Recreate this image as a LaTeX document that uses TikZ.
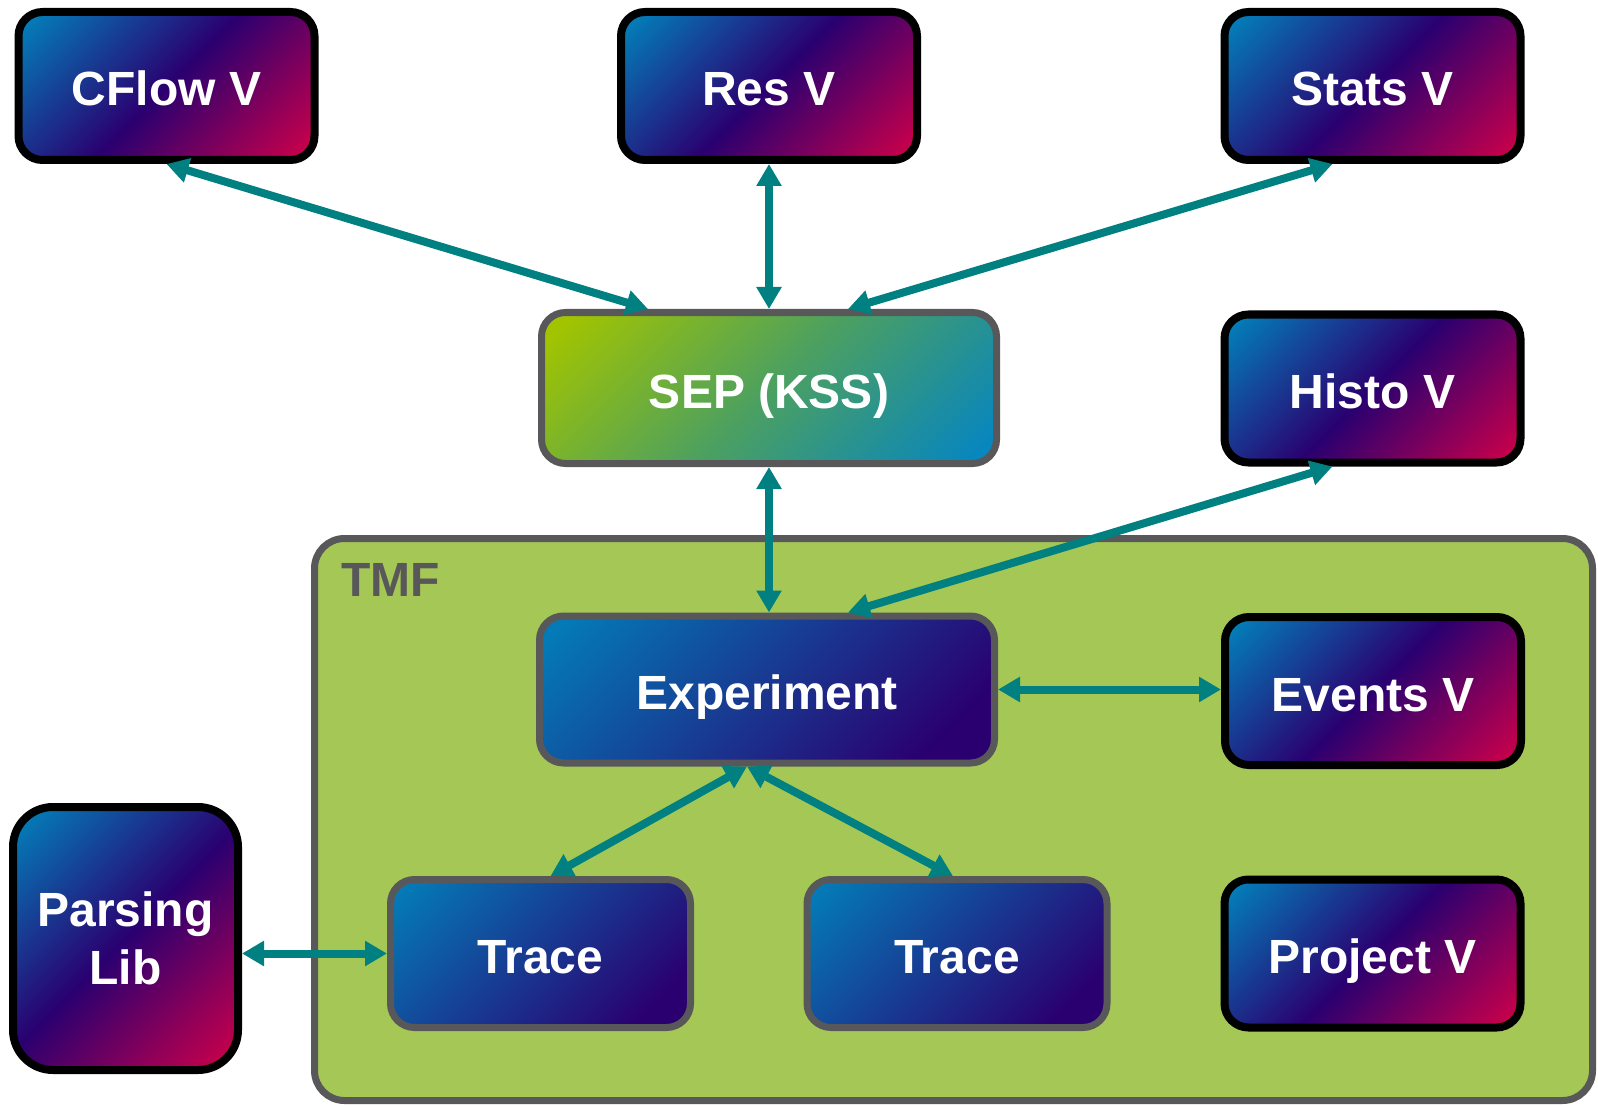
\documentclass[tikz,border=0pt]{standalone}
\usepackage{fontspec}
\setmainfont{Liberation Sans}
\usetikzlibrary{arrows.meta}
\definecolor{vblue}{RGB}{4,122,182}
\definecolor{vpurple}{RGB}{42,0,112}
\definecolor{vred}{RGB}{196,0,76}
\definecolor{sepgreen}{RGB}{162,196,0}
\definecolor{sepmid}{RGB}{76,160,96}
\definecolor{sepblue}{RGB}{8,134,190}
\definecolor{tmfgreen}{RGB}{165,199,86}
\definecolor{bordergrey}{RGB}{88,88,90}
\definecolor{arrowteal}{RGB}{0,128,128}
\pgfdeclarehorizontalshading{vgrad}{100bp}{color(0bp)=(vblue); color(18bp)=(vblue); color(50bp)=(vpurple); color(82bp)=(vred); color(100bp)=(vred)}
\pgfdeclarehorizontalshading{bgrad}{100bp}{color(0bp)=(vblue); color(18bp)=(vblue); color(76bp)=(vpurple); color(100bp)=(vpurple)}
\pgfdeclarehorizontalshading{sgrad}{100bp}{color(0bp)=(sepgreen); color(18bp)=(sepgreen); color(50bp)=(sepmid); color(82bp)=(sepblue); color(100bp)=(sepblue)}
\begin{document}
\begin{tikzpicture}[x=1pt,y=-1pt,
  lbl/.style={font=\bfseries\fontsize{48}{58}\selectfont, text=white, align=center},
  oneline/.style={text height=40pt, text depth=0pt},
  vbox/.style={lbl, draw=black, line width=8pt, rounded corners=24pt, shading=vgrad, shading angle=-45, minimum width=296pt, minimum height=148pt, inner sep=0pt},
  gbox/.style={lbl, oneline, draw=bordergrey, line width=7pt, rounded corners=24pt, shading=bgrad, shading angle=-45, inner sep=0pt},
  sbox/.style={lbl, oneline, draw=bordergrey, line width=7pt, rounded corners=24pt, shading=sgrad, shading angle=-45, inner sep=0pt},
  link/.style={draw=arrowteal, line width=8pt, {Triangle[length=22pt,width=24pt]}-{Triangle[length=22pt,width=24pt]}}
]
\useasboundingbox (0,0) rectangle (1598,1107);
% TMF container
\node[draw=bordergrey, line width=7pt, fill=tmfgreen, rounded corners=30pt, minimum width=1278pt, minimum height=562pt, inner sep=0pt] (tmf) at (953.5,819.5) {};
\node[anchor=base west, font=\bfseries\fontsize{48}{58}\selectfont, text=bordergrey, inner sep=0pt] (tmflabel) at (341,596) {TMF};
% top row
\node[vbox, oneline] (cflow) at (166.5,86) {CFlow V};
\node[vbox, oneline] (res) at (769,86) {Res V};
\node[vbox, oneline] (stats) at (1372.5,86) {Stats V};
% middle
\node[sbox, minimum width=455pt, minimum height=151pt] (sep) at (769,388) {SEP (KSS)};
\node[vbox, oneline] (histo) at (1372.5,388.5) {Histo V};
% inside TMF
\node[gbox, minimum width=455pt, minimum height=147pt] (exp) at (767,689.5) {Experiment};
\node[vbox, oneline] (events) at (1373,691) {Events V};
\node[gbox, minimum width=300pt, minimum height=148pt] (trace1) at (540.5,953.5) {Trace};
\node[gbox, minimum width=300pt, minimum height=148pt] (trace2) at (957,953.5) {Trace};
\node[vbox, oneline] (project) at (1372.5,953.5) {Project V};
\node[vbox, minimum width=225pt, minimum height=263pt, rounded corners=40pt] (parsing) at (125.5,938.5) {Parsing\\Lib};
% connectors
\draw[link] (cflow.south) -- ([xshift=-121pt]sep.north);
\draw[link] (res.south) -- (sep.north);
\draw[link] ([xshift=-40pt]stats.south) -- ([xshift=79pt]sep.north);
\draw[link] (sep.south) -- (sep.south |- exp.north);
\draw[link] ([xshift=-40pt]histo.south) -- ([xshift=81pt]exp.north);
\draw[link] (exp.east) -- (exp.east -| events.west);
\draw[link] ([xshift=-20pt]exp.south) -- ([xshift=10pt]trace1.north);
\draw[link] ([xshift=-20pt]exp.south) -- ([xshift=-4pt]trace2.north);
\draw[link] (trace1.west -| parsing.east) -- (trace1.west);
\end{tikzpicture}
\end{document}
